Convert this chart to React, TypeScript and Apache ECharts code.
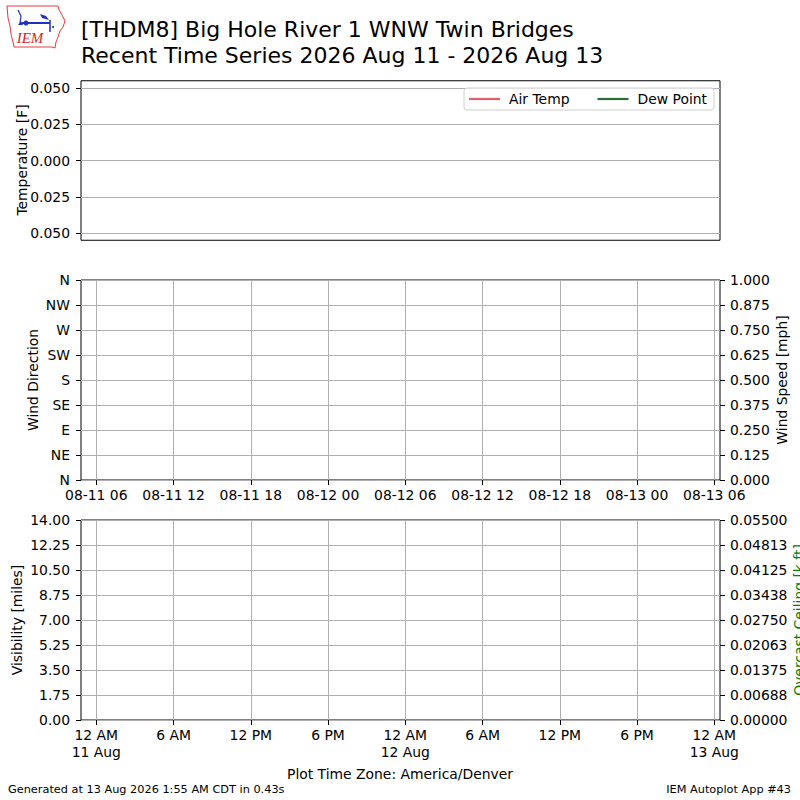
import React, { useEffect, useRef } from "react";
import * as echarts from "echarts";

// ---- Text content ----
const titleLines = [
  "[THDM8] Big Hole River 1 WNW Twin Bridges",
  "Recent Time Series 2026 Aug 11 - 2026 Aug 13",
];
const footerLeft = "Generated at 13 Aug 2026 1:55 AM CDT in 0.43s";
const footerRight = "IEM Autoplot App #43";
const timeZoneLabel = "Plot Time Zone: America/Denver";

// ---- Tick labels ----
const tempTickLabels = ["0.050", "0.025", "0.000", "0.025", "0.050"];
const dirLabels = ["N", "NE", "E", "SE", "S", "SW", "W", "NW", "N"];
const windSpeedLabels = ["0.000", "0.125", "0.250", "0.375", "0.500", "0.625", "0.750", "0.875", "1.000"];
const visLabels = ["0.00", "1.75", "3.50", "5.25", "7.00", "8.75", "10.50", "12.25", "14.00"];
const ceilLabels = ["0.00000", "0.00688", "0.01375", "0.02063", "0.02750", "0.03438", "0.04125", "0.04813", "0.05500"];
const utcLabels = [
  "08-11 06", "08-11 12", "08-11 18", "08-12 00", "08-12 06",
  "08-12 12", "08-12 18", "08-13 00", "08-13 06",
];
const localLabels = [
  "12 AM\n11 Aug", "6 AM", "12 PM", "6 PM", "12 AM\n12 Aug",
  "6 AM", "12 PM", "6 PM", "12 AM\n13 Aug",
];

// ---- Series values (no observations in the period) ----
const airTemp: number[][] = [];
const dewPoint: number[][] = [];

const FONT = "DejaVu Sans";
const FS = 13.9;
const GRID_COLOR = "#b0b0b0";

const tempMin = -0.05, tempMax = 0.05, tempStep = 0.025;
const dirMax = 360, dirStep = 45;
const speedMax = 1, speedStep = 0.125;
const visMax = 14, visStep = 1.75;
const ceilMax = 0.055, ceilStep = 0.055 / 8;

const hiddenX = (gridIndex: number) => ({ gridIndex, type: "value", show: false, min: 0, max: 1 });
const hiddenY = (gridIndex: number) => ({ gridIndex, type: "value", show: false, min: 0, max: 1 });

const labelStyle = { color: "#000", fontFamily: FONT, fontSize: FS };
const tickStyle = { show: true, inside: false, length: 5, lineStyle: { color: "#000", width: 1 } };
const splitStyle = { show: true, lineStyle: { color: GRID_COLOR, width: 1 } };

function valueY(gridIndex: number, position: string, min: number, max: number, interval: number,
  labels: string[], showSplit: boolean, margin: number) {
  return {
    gridIndex,
    type: "value",
    position,
    min,
    max,
    interval,
    axisLine: { show: false },
    axisTick: tickStyle,
    axisLabel: {
      ...labelStyle,
      margin,
      formatter: (v: number) => labels[Math.round((v - min) / interval)] ?? "",
    },
    splitLine: showSplit ? splitStyle : { show: false },
  };
}

function catX(gridIndex: number, labels: string[], margin: number) {
  return {
    gridIndex,
    type: "category",
    boundaryGap: false,
    data: labels,
    axisLine: { show: false },
    axisTick: { ...tickStyle, interval: 0, alignWithLabel: true },
    axisLabel: { ...labelStyle, interval: 0, margin, lineHeight: 16.5 },
    splitLine: { ...splitStyle, interval: 0 },
  };
}

function vText(text: string, x: number, y: number, color = "#000") {
  return {
    type: "text",
    x,
    y,
    rotation: Math.PI / 2,
    style: { text, fill: color, fontFamily: FONT, fontSize: FS, align: "center", verticalAlign: "middle" },
  };
}

export default function App() {
  const ref = useRef<HTMLDivElement>(null);

  useEffect(() => {
    document.body.style.margin = "0";
    if (!ref.current) return;
    const chart = echarts.init(ref.current, null, { renderer: "svg" });

    const option: any = {
      animation: false,
      backgroundColor: "#fff",
      grid: [
        { left: 81, top: 80.75, width: 639, height: 159.5, show: true, borderColor: "#000", borderWidth: 1, backgroundColor: "transparent" },
        { left: 81, top: 88, width: 639, height: 145 },
        { left: 81, top: 280, width: 639, height: 200, show: true, borderColor: "#000", borderWidth: 1, backgroundColor: "transparent" },
        { left: 96.3, top: 280, width: 618, height: 200 },
        { left: 81, top: 520, width: 639, height: 200, show: true, borderColor: "#000", borderWidth: 1, backgroundColor: "transparent" },
        { left: 96.3, top: 520, width: 618, height: 200 },
      ],
      xAxis: [
        hiddenX(0),
        hiddenX(1),
        hiddenX(2),
        catX(3, utcLabels, 7),
        hiddenX(4),
        catX(5, localLabels, 7),
      ],
      yAxis: [
        hiddenY(0),
        valueY(1, "left", tempMin, tempMax, tempStep, tempTickLabels, true, 11),
        valueY(2, "left", 0, dirMax, dirStep, dirLabels, true, 11),
        valueY(2, "right", 0, speedMax, speedStep, windSpeedLabels, false, 10),
        hiddenY(3),
        valueY(4, "left", 0, visMax, visStep, visLabels, true, 11),
        valueY(4, "right", 0, ceilMax, ceilStep, ceilLabels, false, 10),
        hiddenY(5),
      ],
      legend: {
        data: ["Air Temp", "Dew Point"],
        left: 464,
        top: 88,
        orient: "horizontal",
        padding: [4, 7, 4, 5],
        itemGap: 28,
        itemWidth: 31,
        itemHeight: 2.2,
        icon: "rect",
        borderColor: "#d0d0d0",
        borderWidth: 1,
        borderRadius: 3,
        backgroundColor: "rgba(255,255,255,0.8)",
        textStyle: { color: "#000", fontFamily: FONT, fontSize: FS, padding: [0, 0, 0, 4] },
      },
      series: [
        {
          name: "Air Temp",
          type: "line",
          xAxisIndex: 1,
          yAxisIndex: 1,
          data: airTemp,
          showSymbol: false,
          itemStyle: { color: "#e0606c" },
          lineStyle: { color: "#e0606c", width: 2 },
        },
        {
          name: "Dew Point",
          type: "line",
          xAxisIndex: 1,
          yAxisIndex: 1,
          data: dewPoint,
          showSymbol: false,
          itemStyle: { color: "#2e6b35" },
          lineStyle: { color: "#2e6b35", width: 2 },
        },
      ],
      graphic: [
        // logo
        {
          type: "polygon",
          shape: {
            points: [
              [7, 6], [58, 6], [59, 10], [62, 15], [65, 21], [63, 27], [60, 31],
              [58, 37], [56, 42], [55, 48], [52, 47], [14, 47], [13, 42], [11, 34],
              [10, 26], [8, 18],
            ],
          },
          style: { fill: "none", stroke: "#e03c3c", lineWidth: 1 },
        },
        { type: "line", shape: { x1: 18, y1: 10, x2: 21, y2: 16 }, style: { stroke: "#2030c0", lineWidth: 1.2 } },
        { type: "line", shape: { x1: 21, y1: 16, x2: 20, y2: 23 }, style: { stroke: "#2030c0", lineWidth: 1.2 } },
        { type: "line", shape: { x1: 22, y1: 23, x2: 50, y2: 23 }, style: { stroke: "#2030c0", lineWidth: 2 } },
        { type: "circle", shape: { cx: 26, cy: 23, r: 2.5 }, style: { fill: "#2030c0" } },
        { type: "polygon", shape: { points: [[18, 25], [21, 21], [23, 25]] }, style: { fill: "#2030c0" } },
        { type: "polygon", shape: { points: [[40, 14], [46, 16], [49, 20], [42, 18]] }, style: { fill: "#2030c0" } },
        { type: "line", shape: { x1: 50, y1: 20, x2: 50, y2: 32 }, style: { stroke: "#2030c0", lineWidth: 1.5 } },
        { type: "circle", shape: { cx: 53, cy: 27, r: 1 }, style: { fill: "#2030c0" } },
        {
          type: "text",
          x: 30,
          y: 38,
          style: {
            text: "IEM",
            fill: "#d02828",
            fontFamily: "Liberation Serif",
            fontStyle: "italic",
            fontSize: 15,
            align: "center",
            verticalAlign: "middle",
          },
        },
        // titles
        {
          type: "text",
          x: 81,
          y: 29,
          style: { text: titleLines[0], fill: "#000", fontFamily: FONT, fontSize: 22, align: "left", verticalAlign: "middle" },
        },
        {
          type: "text",
          x: 81,
          y: 55.5,
          style: { text: titleLines[1], fill: "#000", fontFamily: FONT, fontSize: 22, align: "left", verticalAlign: "middle" },
        },
        // axis titles
        vText("Temperature [F]", 22, 160),
        vText("Wind Direction", 33, 380),
        vText("Wind Speed [mph]", 781.5, 380),
        vText("Visibility [miles]", 17, 620),
        vText("Overcast Ceiling [k ft]", 798.5, 620, "#008000"),
        {
          type: "text",
          x: 400,
          y: 774,
          style: { text: timeZoneLabel, fill: "#000", fontFamily: FONT, fontSize: FS, align: "center", verticalAlign: "middle" },
        },
        // footer
        {
          type: "text",
          x: 8,
          y: 789,
          style: { text: footerLeft, fill: "#000", fontFamily: FONT, fontSize: 11.3, align: "left", verticalAlign: "middle" },
        },
        {
          type: "text",
          x: 791,
          y: 789,
          style: { text: footerRight, fill: "#000", fontFamily: FONT, fontSize: 11.3, align: "right", verticalAlign: "middle" },
        },
      ],
    };

    chart.setOption(option);
    return () => chart.dispose();
  }, []);

  return <div ref={ref} style={{ width: 800, height: 800 }} />;
}
